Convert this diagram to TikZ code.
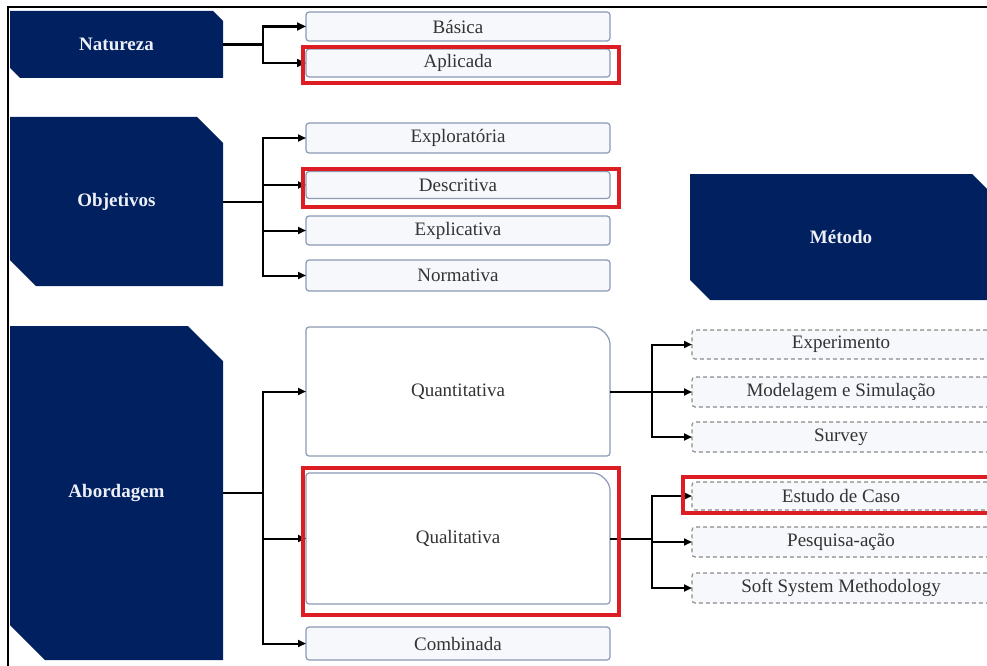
\documentclass[tikz,border=0pt]{standalone}
\usepackage{fontspec}
\setmainfont{Liberation Serif}
\usetikzlibrary{arrows.meta}

\definecolor{navy}{HTML}{002060}
\definecolor{navytext}{HTML}{EEF0F8}
\definecolor{boxedge}{HTML}{8C9AB4}
\definecolor{boxfill}{HTML}{F6F8FC}
\definecolor{boxtext}{HTML}{333333}
\definecolor{dashedge}{HTML}{8A8A8A}
\definecolor{hlred}{HTML}{DC1E24}

% Dark category block with chamfered top-right and bottom-left corners:
% name, x1, y1, x2, y2, chamfer, label
\newcommand\navybox[7]{%
  \fill[navy] (#2,#3) -- ({#4-#6},#3) -- (#4,{#3+#6}) -- (#4,#5)
    -- ({#2+#6},#5) -- (#2,{#5-#6}) -- cycle;
  \node[navylabel, minimum width={(#4-#2)*1pt}, minimum height={(#5-#3)*1pt}]
    (#1) at ({(#2+#4)/2},{(#3+#5)/2}) {#7};
}

\tikzset{
  txt/.style={font=\fontsize{19}{22}\selectfont},
  navylabel/.style={txt, font=\fontsize{19}{22}\selectfont\bfseries,
    text=navytext, inner sep=0pt, outer sep=0pt},
  opt/.style={txt, draw=boxedge, fill=boxfill, text=boxtext, line width=1.2pt,
    rounded corners=3pt, minimum width=304, inner sep=0pt, outer sep=0pt},
  bigopt/.style={draw=boxedge, fill=white, line width=1.2pt, rounded corners=3pt},
  biglabel/.style={txt, text=boxtext, minimum width=304, inner sep=0pt, outer sep=0pt},
  meth/.style={txt, draw=dashedge, fill=boxfill, text=boxtext, line width=1.1pt,
    dash pattern=on 4pt off 3pt, rounded corners=3pt, minimum width=298,
    inner sep=0pt, outer sep=0pt},
  hl/.style={draw=hlred, line width=3.5pt},
  conn/.style={line width=2pt},
  thickconn/.style={line width=2.6pt},
  arr/.style={conn, -{Triangle[length=8pt, width=7pt]}},
  thickarr/.style={thickconn, -{Triangle[length=9pt, width=8pt]}},
}

\begin{document}
\begin{tikzpicture}[x=1pt, y=-1pt]
\useasboundingbox (0,0) rectangle (987,666);

% outer frame
\draw[line width=2.2pt] (8,666) -- (8,7) -- (987,7);

% category blocks
\navybox{nat}{10}{11}{223}{78}{10}{Natureza}
\navybox{obj}{10}{117}{223}{286}{26}{Objetivos}
\navybox{abo}{10}{326}{223}{660}{35}{Abordagem}
\navybox{met}{690}{174}{992}{300}{20}{Método}

% Natureza options
\node[opt, minimum height=29] (bas) at (458,26.5) {Básica};
\node[opt, minimum height=28] (apl) at (458,63) {Aplicada};

% Objetivos options
\node[opt, minimum height=30] (explo) at (458,138) {Exploratória};
\node[opt, minimum height=27] (desc) at (458,185) {Descritiva};
\node[opt, minimum height=29] (expli) at (458,230.5) {Explicativa};
\node[opt, minimum height=31] (norm) at (458,275.5) {Normativa};

% Abordagem options
\draw[bigopt] (306,456) -- (306,327) -- (590,327)
  .. controls (601,327) and (610,336) .. (610,347) -- (610,456) -- cycle;
\node[biglabel, minimum height=129] (quant) at (458,391.5) {Quantitativa};
\draw[bigopt] (306,604) -- (306,473) -- (590,473)
  .. controls (601,473) and (610,482) .. (610,493) -- (610,604) -- cycle;
\node[biglabel, minimum height=131] (qual) at (458,538.5) {Qualitativa};
\node[opt, minimum height=33] (comb) at (458,643.5) {Combinada};

% methods
\node[meth, minimum height=29] (expe) at (841,344.5) {Experimento};
\node[meth, minimum height=30] (mods) at (841,392) {Modelagem e Simulação};
\node[meth, minimum height=30] (surv) at (841,437) {Survey};
\node[meth, minimum height=28] (estc) at (841,496) {Estudo de Caso};
\node[meth, minimum height=30] (pesq) at (841,542) {Pesquisa-ação};
\node[meth, minimum height=30] (ssm) at (841,588) {Soft System Methodology};

% branching points
\coordinate (natj) at (263,44.5);
\coordinate (objj) at (263,201.5);
\coordinate (aboj) at (263,493);
\coordinate (quantj) at (652,391.5);
\coordinate (qualj) at (652,538.5);

% connectors
\draw[thickconn] (nat.east) -- (natj);
\draw[thickarr] (natj) |- (bas.west);
\draw[thickarr] (natj) |- (apl.west);

\draw[conn] (obj.east) -- (objj);
\foreach \t in {explo,desc,expli,norm} \draw[arr] (objj) |- (\t.west);

\draw[conn] (abo.east) -- (aboj);
\foreach \t in {quant,qual,comb} \draw[arr] (aboj) |- (\t.west);

\draw[conn] (quant.east) -- (quantj);
\foreach \t in {expe,mods,surv} \draw[arr] (quantj) |- (\t.west);

\draw[conn] (qual.east) -- (qualj);
\foreach \t in {estc,pesq,ssm} \draw[arr] (qualj) |- (\t.west);

% highlighted choices
\draw[hl] (303,47) rectangle (619,83);
\draw[hl] (303,169) rectangle (619,207);
\draw[hl] (303,468) rectangle (619,615);
\draw[hl] (683,477) rectangle (995,513);
\end{tikzpicture}
\end{document}
